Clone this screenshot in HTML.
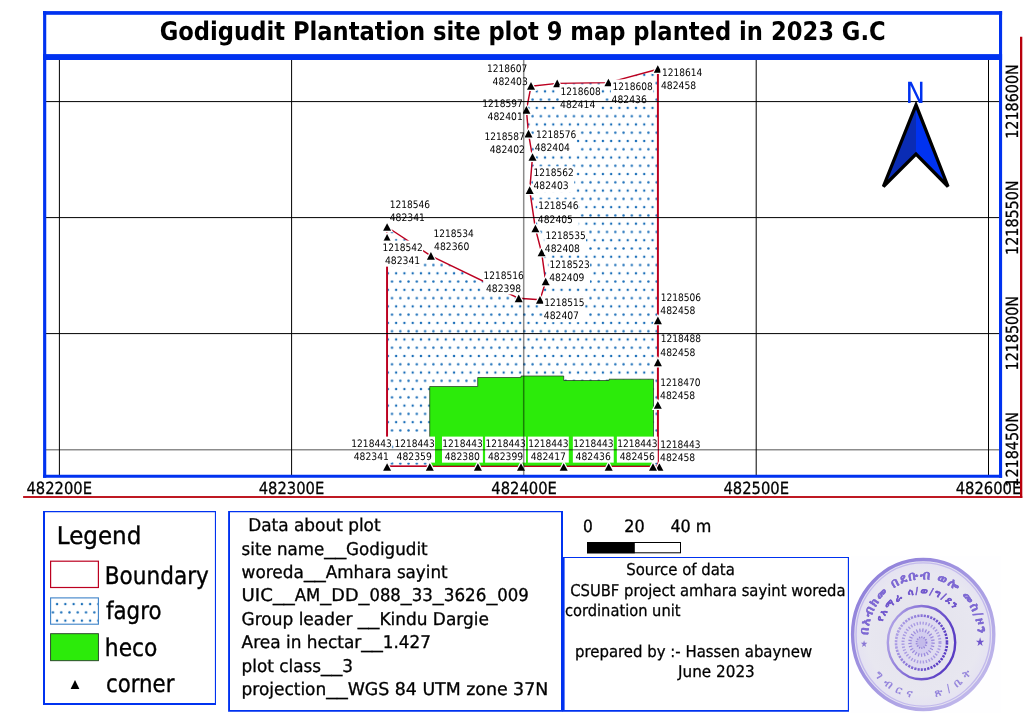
<!DOCTYPE html>
<html lang="en"><head><meta charset="utf-8"><title>Godigudit Plantation site plot 9 map</title>
<style>html,body{margin:0;padding:0;background:#fff}svg{display:block;will-change:transform}text{font-family:"DejaVu Sans Condensed","DejaVu Sans","Liberation Sans",sans-serif;white-space:pre;text-rendering:geometricPrecision}</style></head><body>
<svg width="1024" height="724" viewBox="0 0 1024 724">
<defs>
<pattern id="dots" patternUnits="userSpaceOnUse" x="7.460" y="8.660" width="8.27" height="16.54"><circle cx="0" cy="0" r="1.2" fill="#1a6eb8"/><circle cx="8.27" cy="0" r="1.2" fill="#1a6eb8"/><circle cx="0" cy="16.54" r="1.2" fill="#1a6eb8"/><circle cx="8.27" cy="16.54" r="1.2" fill="#1a6eb8"/><circle cx="4.135" cy="8.27" r="1.2" fill="#1a6eb8"/></pattern>
<clipPath id="mapclip"><rect x="46" y="60" width="953" height="415"/></clipPath>
</defs>
<rect width="1024" height="724" fill="#fff"/>
<g clip-path="url(#mapclip)">
<polygon points="531,86.3 557.2,83.4 608.4,82.6 657.8,69.2 657.9,466.3 387.1,466.3 387.1,227 430.9,255.9 518.7,298.3 540,299.8 545.7,281.6 541.6,252.5 535.4,228.6 529.7,190.2 532.5,157 528.5,133.7 526.4,109.9" fill="url(#dots)" stroke="#bc0020" stroke-width="1.45" stroke-linejoin="round"/>
<path d="M657.85,69.2 V466.3 M387.1,227 V466.3" stroke="#bc0020" stroke-width="1.85" fill="none"/>
<polygon points="429.7,386.5 477.7,386.5 477.7,377.5 521,377.5 521,376 563.7,376 563.7,380.5 609,380.5 609,379.2 653.5,379.2 653.5,466.2 429.7,466.2" fill="#2ceb0a" stroke="#1c2c1c" stroke-width="0.7"/>
<line x1="387.1" y1="466.3" x2="657.9" y2="466.3" stroke="#bc0020" stroke-width="1.25"/>
<path d="M527.00,89.75 L531.00,82.05 L535.00,89.75Z" fill="#000" stroke="#fff" stroke-width="2.4" paint-order="stroke" stroke-linejoin="miter"/>
<path d="M553.20,87.25 L557.20,79.55 L561.20,87.25Z" fill="#000" stroke="#fff" stroke-width="2.4" paint-order="stroke" stroke-linejoin="miter"/>
<path d="M604.40,86.35 L608.40,78.65 L612.40,86.35Z" fill="#000" stroke="#fff" stroke-width="2.4" paint-order="stroke" stroke-linejoin="miter"/>
<path d="M653.80,72.85 L657.80,65.15 L661.80,72.85Z" fill="#000" stroke="#fff" stroke-width="2.4" paint-order="stroke" stroke-linejoin="miter"/>
<path d="M522.40,113.75 L526.40,106.05 L530.40,113.75Z" fill="#000" stroke="#fff" stroke-width="2.4" paint-order="stroke" stroke-linejoin="miter"/>
<path d="M524.50,137.55 L528.50,129.85 L532.50,137.55Z" fill="#000" stroke="#fff" stroke-width="2.4" paint-order="stroke" stroke-linejoin="miter"/>
<path d="M528.50,160.85 L532.50,153.15 L536.50,160.85Z" fill="#000" stroke="#fff" stroke-width="2.4" paint-order="stroke" stroke-linejoin="miter"/>
<path d="M525.70,194.05 L529.70,186.35 L533.70,194.05Z" fill="#000" stroke="#fff" stroke-width="2.4" paint-order="stroke" stroke-linejoin="miter"/>
<path d="M531.40,232.35 L535.40,224.65 L539.40,232.35Z" fill="#000" stroke="#fff" stroke-width="2.4" paint-order="stroke" stroke-linejoin="miter"/>
<path d="M537.60,256.35 L541.60,248.65 L545.60,256.35Z" fill="#000" stroke="#fff" stroke-width="2.4" paint-order="stroke" stroke-linejoin="miter"/>
<path d="M541.70,285.35 L545.70,277.65 L549.70,285.35Z" fill="#000" stroke="#fff" stroke-width="2.4" paint-order="stroke" stroke-linejoin="miter"/>
<path d="M536.00,303.65 L540.00,295.95 L544.00,303.65Z" fill="#000" stroke="#fff" stroke-width="2.4" paint-order="stroke" stroke-linejoin="miter"/>
<path d="M514.70,302.15 L518.70,294.45 L522.70,302.15Z" fill="#000" stroke="#fff" stroke-width="2.4" paint-order="stroke" stroke-linejoin="miter"/>
<path d="M426.90,259.75 L430.90,252.05 L434.90,259.75Z" fill="#000" stroke="#fff" stroke-width="2.4" paint-order="stroke" stroke-linejoin="miter"/>
<path d="M383.10,230.85 L387.10,223.15 L391.10,230.85Z" fill="#000" stroke="#fff" stroke-width="2.4" paint-order="stroke" stroke-linejoin="miter"/>
<path d="M383.10,241.65 L387.10,233.95 L391.10,241.65Z" fill="#000" stroke="#fff" stroke-width="2.4" paint-order="stroke" stroke-linejoin="miter"/>
<path d="M653.90,324.15 L657.90,316.45 L661.90,324.15Z" fill="#000" stroke="#fff" stroke-width="2.4" paint-order="stroke" stroke-linejoin="miter"/>
<path d="M653.90,366.25 L657.90,358.55 L661.90,366.25Z" fill="#000" stroke="#fff" stroke-width="2.4" paint-order="stroke" stroke-linejoin="miter"/>
<path d="M653.80,408.85 L657.80,401.15 L661.80,408.85Z" fill="#000" stroke="#fff" stroke-width="2.4" paint-order="stroke" stroke-linejoin="miter"/>
<path d="M655.40,470.85 L659.40,463.15 L663.40,470.85Z" fill="#000" stroke="#fff" stroke-width="2.4" paint-order="stroke" stroke-linejoin="miter"/>
<path d="M649.00,470.85 L653.00,463.15 L657.00,470.85Z" fill="#000" stroke="#fff" stroke-width="2.4" paint-order="stroke" stroke-linejoin="miter"/>
<path d="M604.70,470.85 L608.70,463.15 L612.70,470.85Z" fill="#000" stroke="#fff" stroke-width="2.4" paint-order="stroke" stroke-linejoin="miter"/>
<path d="M559.70,470.85 L563.70,463.15 L567.70,470.85Z" fill="#000" stroke="#fff" stroke-width="2.4" paint-order="stroke" stroke-linejoin="miter"/>
<path d="M517.00,470.85 L521.00,463.15 L525.00,470.85Z" fill="#000" stroke="#fff" stroke-width="2.4" paint-order="stroke" stroke-linejoin="miter"/>
<path d="M473.90,470.85 L477.90,463.15 L481.90,470.85Z" fill="#000" stroke="#fff" stroke-width="2.4" paint-order="stroke" stroke-linejoin="miter"/>
<path d="M425.80,470.85 L429.80,463.15 L433.80,470.85Z" fill="#000" stroke="#fff" stroke-width="2.4" paint-order="stroke" stroke-linejoin="miter"/>
<path d="M383.10,470.85 L387.10,463.15 L391.10,470.85Z" fill="#000" stroke="#fff" stroke-width="2.4" paint-order="stroke" stroke-linejoin="miter"/>
<rect x="486.60" y="61.80" width="40.90" height="26.30" fill="#fff"/>
<rect x="559.50" y="85.00" width="41.50" height="26.20" fill="#fff"/>
<rect x="611.00" y="79.50" width="42.10" height="25.90" fill="#fff"/>
<rect x="660.35" y="65.60" width="42.15" height="26.05" fill="#fff"/>
<rect x="482.00" y="96.60" width="40.90" height="25.80" fill="#fff"/>
<rect x="484.10" y="129.50" width="40.90" height="26.40" fill="#fff"/>
<rect x="534.10" y="127.50" width="42.50" height="26.40" fill="#fff"/>
<rect x="532.85" y="166.40" width="41.25" height="25.80" fill="#fff"/>
<rect x="537.20" y="199.30" width="41.55" height="26.20" fill="#fff"/>
<rect x="544.20" y="228.50" width="41.80" height="26.00" fill="#fff"/>
<rect x="548.60" y="257.90" width="41.40" height="25.60" fill="#fff"/>
<rect x="543.20" y="296.25" width="41.55" height="25.95" fill="#fff"/>
<rect x="483.20" y="268.50" width="40.90" height="25.90" fill="#fff"/>
<rect x="389.10" y="197.50" width="41.15" height="26.00" fill="#fff"/>
<rect x="382.20" y="240.60" width="40.90" height="26.05" fill="#fff"/>
<rect x="433.10" y="226.50" width="40.90" height="25.90" fill="#fff"/>
<rect x="659.70" y="290.90" width="41.55" height="26.00" fill="#fff"/>
<rect x="659.70" y="332.30" width="41.55" height="26.10" fill="#fff"/>
<rect x="659.45" y="375.50" width="41.35" height="25.90" fill="#fff"/>
<rect x="659.45" y="437.80" width="41.35" height="26.00" fill="#fff"/>
<rect x="351.00" y="436.60" width="40.90" height="26.05" fill="#fff"/>
<rect x="394.10" y="436.60" width="40.90" height="26.05" fill="#fff"/>
<rect x="442.00" y="436.60" width="40.90" height="26.05" fill="#fff"/>
<rect x="485.10" y="436.60" width="40.90" height="26.05" fill="#fff"/>
<rect x="527.90" y="436.60" width="40.90" height="26.05" fill="#fff"/>
<rect x="572.85" y="436.60" width="40.90" height="26.05" fill="#fff"/>
<rect x="616.85" y="436.60" width="40.90" height="26.05" fill="#fff"/>
<text x="486.95" y="71.8" font-size="10.3" textLength="40.34" lengthAdjust="spacingAndGlyphs">1218607</text>
<text x="492.6" y="85.2" font-size="10.3" textLength="35.19" lengthAdjust="spacingAndGlyphs">482403</text>
<text x="560.45" y="95" font-size="10.3" textLength="40.34" lengthAdjust="spacingAndGlyphs">1218608</text>
<text x="560.1" y="108.3" font-size="10.3" textLength="35.19" lengthAdjust="spacingAndGlyphs">482414</text>
<text x="612.55" y="89.5" font-size="10.3" textLength="40.34" lengthAdjust="spacingAndGlyphs">1218608</text>
<text x="611.6" y="102.5" font-size="10.3" textLength="35.19" lengthAdjust="spacingAndGlyphs">482436</text>
<text x="661.95" y="75.6" font-size="10.3" textLength="40.34" lengthAdjust="spacingAndGlyphs">1218614</text>
<text x="660.95" y="88.75" font-size="10.3" textLength="35.19" lengthAdjust="spacingAndGlyphs">482458</text>
<text x="482.35" y="106.6" font-size="10.3" textLength="40.34" lengthAdjust="spacingAndGlyphs">1218597</text>
<text x="487.6" y="119.5" font-size="10.3" textLength="35.19" lengthAdjust="spacingAndGlyphs">482401</text>
<text x="484.45" y="139.5" font-size="10.3" textLength="40.34" lengthAdjust="spacingAndGlyphs">1218587</text>
<text x="489.7" y="153" font-size="10.3" textLength="35.19" lengthAdjust="spacingAndGlyphs">482402</text>
<text x="536.05" y="137.5" font-size="10.3" textLength="40.34" lengthAdjust="spacingAndGlyphs">1218576</text>
<text x="534.7" y="151" font-size="10.3" textLength="35.19" lengthAdjust="spacingAndGlyphs">482404</text>
<text x="533.55" y="176.4" font-size="10.3" textLength="40.34" lengthAdjust="spacingAndGlyphs">1218562</text>
<text x="533.45" y="189.3" font-size="10.3" textLength="35.19" lengthAdjust="spacingAndGlyphs">482403</text>
<text x="538.2" y="209.3" font-size="10.3" textLength="40.34" lengthAdjust="spacingAndGlyphs">1218546</text>
<text x="537.8" y="222.6" font-size="10.3" textLength="35.19" lengthAdjust="spacingAndGlyphs">482405</text>
<text x="545.45" y="238.5" font-size="10.3" textLength="40.34" lengthAdjust="spacingAndGlyphs">1218535</text>
<text x="544.8" y="251.6" font-size="10.3" textLength="35.19" lengthAdjust="spacingAndGlyphs">482408</text>
<text x="549.45" y="267.9" font-size="10.3" textLength="40.34" lengthAdjust="spacingAndGlyphs">1218523</text>
<text x="549.2" y="280.6" font-size="10.3" textLength="35.19" lengthAdjust="spacingAndGlyphs">482409</text>
<text x="544.2" y="306.25" font-size="10.3" textLength="40.34" lengthAdjust="spacingAndGlyphs">1218515</text>
<text x="543.8" y="319.3" font-size="10.3" textLength="35.19" lengthAdjust="spacingAndGlyphs">482407</text>
<text x="483.55" y="278.5" font-size="10.3" textLength="40.34" lengthAdjust="spacingAndGlyphs">1218516</text>
<text x="485.95" y="291.5" font-size="10.3" textLength="35.19" lengthAdjust="spacingAndGlyphs">482398</text>
<text x="389.7" y="207.5" font-size="10.3" textLength="40.34" lengthAdjust="spacingAndGlyphs">1218546</text>
<text x="389.7" y="220.6" font-size="10.3" textLength="35.19" lengthAdjust="spacingAndGlyphs">482341</text>
<text x="382.55" y="250.6" font-size="10.3" textLength="40.34" lengthAdjust="spacingAndGlyphs">1218542</text>
<text x="384.95" y="263.75" font-size="10.3" textLength="35.19" lengthAdjust="spacingAndGlyphs">482341</text>
<text x="433.45" y="236.5" font-size="10.3" textLength="40.34" lengthAdjust="spacingAndGlyphs">1218534</text>
<text x="434.1" y="249.5" font-size="10.3" textLength="35.19" lengthAdjust="spacingAndGlyphs">482360</text>
<text x="660.7" y="300.9" font-size="10.3" textLength="40.34" lengthAdjust="spacingAndGlyphs">1218506</text>
<text x="660.3" y="314" font-size="10.3" textLength="35.19" lengthAdjust="spacingAndGlyphs">482458</text>
<text x="660.7" y="342.3" font-size="10.3" textLength="40.34" lengthAdjust="spacingAndGlyphs">1218488</text>
<text x="660.3" y="355.5" font-size="10.3" textLength="35.19" lengthAdjust="spacingAndGlyphs">482458</text>
<text x="660.25" y="385.5" font-size="10.3" textLength="40.34" lengthAdjust="spacingAndGlyphs">1218470</text>
<text x="660.05" y="398.5" font-size="10.3" textLength="35.19" lengthAdjust="spacingAndGlyphs">482458</text>
<text x="660.25" y="447.8" font-size="10.3" textLength="40.34" lengthAdjust="spacingAndGlyphs">1218443</text>
<text x="660.05" y="460.9" font-size="10.3" textLength="35.19" lengthAdjust="spacingAndGlyphs">482458</text>
<text x="351.35" y="446.6" font-size="10.3" textLength="40.34" lengthAdjust="spacingAndGlyphs">1218443</text>
<text x="353.7" y="459.75" font-size="10.3" textLength="35.19" lengthAdjust="spacingAndGlyphs">482341</text>
<text x="394.45" y="446.6" font-size="10.3" textLength="40.34" lengthAdjust="spacingAndGlyphs">1218443</text>
<text x="396.6" y="459.75" font-size="10.3" textLength="35.19" lengthAdjust="spacingAndGlyphs">482359</text>
<text x="442.35" y="446.6" font-size="10.3" textLength="40.34" lengthAdjust="spacingAndGlyphs">1218443</text>
<text x="444.7" y="459.75" font-size="10.3" textLength="35.19" lengthAdjust="spacingAndGlyphs">482380</text>
<text x="485.45" y="446.6" font-size="10.3" textLength="40.34" lengthAdjust="spacingAndGlyphs">1218443</text>
<text x="487.95" y="459.75" font-size="10.3" textLength="35.19" lengthAdjust="spacingAndGlyphs">482399</text>
<text x="528.25" y="446.6" font-size="10.3" textLength="40.34" lengthAdjust="spacingAndGlyphs">1218443</text>
<text x="530.7" y="459.75" font-size="10.3" textLength="35.19" lengthAdjust="spacingAndGlyphs">482417</text>
<text x="573.2" y="446.6" font-size="10.3" textLength="40.34" lengthAdjust="spacingAndGlyphs">1218443</text>
<text x="575.6" y="459.75" font-size="10.3" textLength="35.19" lengthAdjust="spacingAndGlyphs">482436</text>
<text x="617.2" y="446.6" font-size="10.3" textLength="40.34" lengthAdjust="spacingAndGlyphs">1218443</text>
<text x="619.7" y="459.75" font-size="10.3" textLength="35.19" lengthAdjust="spacingAndGlyphs">482456</text>
<line x1="59.4" y1="60" x2="59.4" y2="475" stroke="#000" stroke-width="1"/>
<line x1="291.6" y1="60" x2="291.6" y2="475" stroke="#000" stroke-width="1"/>
<line x1="756.2" y1="60" x2="756.2" y2="475" stroke="#000" stroke-width="1"/>
<line x1="988.5" y1="60" x2="988.5" y2="475" stroke="#000" stroke-width="1"/>
<line x1="46" y1="101.6" x2="999" y2="101.6" stroke="#000" stroke-width="1"/>
<line x1="46" y1="217.6" x2="999" y2="217.6" stroke="#000" stroke-width="1"/>
<line x1="46" y1="333.6" x2="999" y2="333.6" stroke="#000" stroke-width="1"/>
<line x1="523.7" y1="60" x2="523.7" y2="475" stroke="#000" stroke-opacity="0.45" stroke-width="1.5"/>
<line x1="46" y1="449.7" x2="999" y2="449.7" stroke="#000" stroke-opacity="0.45" stroke-width="1.5"/>
<path d="M916,104.9 L883.4,186.5 L916,154Z" fill="#0a2cb4"/>
<path d="M916,104.9 L948,186.5 L916,154Z" fill="#0032f0"/>
<path d="M916,104.9 L948,186.5 L916,154 L883.4,186.5Z" fill="none" stroke="#000" stroke-width="3.3" stroke-linejoin="miter" stroke-miterlimit="4"/>
<text x="915.2" y="102.6" font-size="29" text-anchor="middle" fill="#0032f0" font-family='"Liberation Sans",sans-serif'>N</text>
</g>
<g fill="#0032f0">
<rect x="43" y="11.1" width="959.1" height="3.7"/>
<rect x="43" y="54.1" width="959.1" height="5.9"/>
<rect x="43" y="474.75" width="959.1" height="3"/>
<rect x="43.1" y="11.1" width="3.15" height="466.65"/>
<rect x="999" y="11.1" width="3.1" height="466.65"/>
</g>
<text x="522.7" y="40" font-size="25.6" textLength="726" lengthAdjust="spacingAndGlyphs" text-anchor="middle" font-weight="bold">Godigudit Plantation site plot 9 map planted in 2023 G.C</text>
<text x="59.2" y="493.5" font-size="16.8" textLength="65.6" lengthAdjust="spacingAndGlyphs" text-anchor="middle" stroke="#000" stroke-width="0.25">482200E</text>
<text x="291.5" y="493.5" font-size="16.8" textLength="65.6" lengthAdjust="spacingAndGlyphs" text-anchor="middle" stroke="#000" stroke-width="0.25">482300E</text>
<text x="524.1" y="493.5" font-size="16.8" textLength="65.6" lengthAdjust="spacingAndGlyphs" text-anchor="middle" stroke="#000" stroke-width="0.25">482400E</text>
<text x="756.25" y="493.5" font-size="16.8" textLength="65.6" lengthAdjust="spacingAndGlyphs" text-anchor="middle" stroke="#000" stroke-width="0.25">482500E</text>
<text x="988.5" y="493.5" font-size="16.8" textLength="65.6" lengthAdjust="spacingAndGlyphs" text-anchor="middle" stroke="#000" stroke-width="0.25">482600E</text>
<text x="0" y="0" font-size="16.8" textLength="74.6" lengthAdjust="spacingAndGlyphs" text-anchor="middle" stroke="#000" stroke-width="0.25" transform="translate(1017.9,101.5) rotate(-90)">1218600N</text>
<text x="0" y="0" font-size="16.8" textLength="74.6" lengthAdjust="spacingAndGlyphs" text-anchor="middle" stroke="#000" stroke-width="0.25" transform="translate(1017.9,217.7) rotate(-90)">1218550N</text>
<text x="0" y="0" font-size="16.8" textLength="74.6" lengthAdjust="spacingAndGlyphs" text-anchor="middle" stroke="#000" stroke-width="0.25" transform="translate(1017.9,333.2) rotate(-90)">1218500N</text>
<text x="0" y="0" font-size="16.8" textLength="74.6" lengthAdjust="spacingAndGlyphs" text-anchor="middle" stroke="#000" stroke-width="0.25" transform="translate(1017.9,449.4) rotate(-90)">1218450N</text>
<rect x="1020" y="36.75" width="2.3" height="461.2" fill="#b8000c"/>
<rect x="23.1" y="496.1" width="999.2" height="1.8" fill="#b8000c"/>
<path d="M43,511 H216 V704.9 H43Z M45,512.2 V703.05 H214.9 V512.2Z" fill="#0032f0" fill-rule="evenodd"/>
<text x="56.8" y="543.75" font-size="24.5" textLength="84.5" lengthAdjust="spacingAndGlyphs" stroke="#000" stroke-width="0.35">Legend</text>
<rect x="50.6" y="561.2" width="47.8" height="26.3" fill="#fff" stroke="#bc0020" stroke-width="1.2"/>
<rect x="50.6" y="597.9" width="47.8" height="26.3" fill="url(#dots)" stroke="#3c82c8" stroke-width="1.1"/>
<rect x="50.6" y="633.7" width="47.8" height="27" fill="#2ceb0a" stroke="#233a23" stroke-width="0.9"/>
<path d="M70.60,688.90 L75.00,680.10 L79.40,688.90Z" fill="#000"/>
<text x="104.8" y="583.75" font-size="24.5" textLength="104" lengthAdjust="spacingAndGlyphs" stroke="#000" stroke-width="0.35">Boundary</text>
<text x="106" y="619.2" font-size="24.5" textLength="55.5" lengthAdjust="spacingAndGlyphs" stroke="#000" stroke-width="0.35">fagro</text>
<text x="104.8" y="655.7" font-size="24.5" textLength="52.6" lengthAdjust="spacingAndGlyphs" stroke="#000" stroke-width="0.35">heco</text>
<text x="106" y="692" font-size="24.5" textLength="68.5" lengthAdjust="spacingAndGlyphs" stroke="#000" stroke-width="0.35">corner</text>
<path d="M228.1,511 H563 V711.7 H228.1Z M230,512.2 V709.95 H561 V512.2Z" fill="#0032f0" fill-rule="evenodd"/>
<text x="242.8" y="531.25" font-size="17.6" textLength="137.8" lengthAdjust="spacingAndGlyphs" stroke="#000" stroke-width="0.3"> Data about plot</text>
<text y="554.6" font-size="17.6" stroke="#000" stroke-width="0.3"><tspan x="241.6" textLength="82.6" lengthAdjust="spacingAndGlyphs">site name</tspan><tspan x="324.2" textLength="21.9" lengthAdjust="spacingAndGlyphs">__</tspan><tspan x="346.1" textLength="81.5" lengthAdjust="spacingAndGlyphs">Godigudit</tspan></text>
<text y="578" font-size="17.6" stroke="#000" stroke-width="0.3"><tspan x="241.6" textLength="62.3" lengthAdjust="spacingAndGlyphs">woreda</tspan><tspan x="303.9" textLength="21.9" lengthAdjust="spacingAndGlyphs">__</tspan><tspan x="325.8" textLength="121.8" lengthAdjust="spacingAndGlyphs">Amhara sayint</tspan></text>
<text y="601.3" font-size="17.6" stroke="#000" stroke-width="0.3"><tspan x="241.6" textLength="31.3" lengthAdjust="spacingAndGlyphs">UIC</tspan><tspan x="272.9" textLength="21.9" lengthAdjust="spacingAndGlyphs">__</tspan><tspan x="294.8" textLength="25.5" lengthAdjust="spacingAndGlyphs">AM</tspan><tspan x="320.3" textLength="10.95" lengthAdjust="spacingAndGlyphs">_</tspan><tspan x="331.25" textLength="27.35" lengthAdjust="spacingAndGlyphs">DD</tspan><tspan x="358.6" textLength="10.9" lengthAdjust="spacingAndGlyphs">_</tspan><tspan x="369.5" textLength="31.3" lengthAdjust="spacingAndGlyphs">088</tspan><tspan x="400.8" textLength="10.9" lengthAdjust="spacingAndGlyphs">_</tspan><tspan x="411.7" textLength="21.1" lengthAdjust="spacingAndGlyphs">33</tspan><tspan x="432.8" textLength="10.95" lengthAdjust="spacingAndGlyphs">_</tspan><tspan x="443.75" textLength="42.65" lengthAdjust="spacingAndGlyphs">3626</tspan><tspan x="486.4" textLength="10.9" lengthAdjust="spacingAndGlyphs">_</tspan><tspan x="497.3" textLength="31.6" lengthAdjust="spacingAndGlyphs">009</tspan></text>
<text y="624.6" font-size="17.6" stroke="#000" stroke-width="0.3"><tspan x="241.6" textLength="116.2" lengthAdjust="spacingAndGlyphs">Group leader </tspan><tspan x="357.8" textLength="21.6" lengthAdjust="spacingAndGlyphs">__</tspan><tspan x="379.4" textLength="109.5" lengthAdjust="spacingAndGlyphs">Kindu Dargie</tspan></text>
<text y="648" font-size="17.6" stroke="#000" stroke-width="0.3"><tspan x="241.6" textLength="119.65" lengthAdjust="spacingAndGlyphs">Area in hectar</tspan><tspan x="361.25" textLength="21.55" lengthAdjust="spacingAndGlyphs">__</tspan><tspan x="382.8" textLength="48.1" lengthAdjust="spacingAndGlyphs">1.427</tspan></text>
<text y="671.5" font-size="17.6" stroke="#000" stroke-width="0.3"><tspan x="241.6" textLength="79.5" lengthAdjust="spacingAndGlyphs">plot class</tspan><tspan x="321.1" textLength="21.1" lengthAdjust="spacingAndGlyphs">__</tspan><tspan x="342.2" textLength="10.7" lengthAdjust="spacingAndGlyphs">3</tspan></text>
<text y="695" font-size="17.6" stroke="#000" stroke-width="0.3"><tspan x="241.6" textLength="84.65" lengthAdjust="spacingAndGlyphs">projection</tspan><tspan x="326.25" textLength="21.45" lengthAdjust="spacingAndGlyphs">__</tspan><tspan x="347.7" textLength="200.5" lengthAdjust="spacingAndGlyphs">WGS 84 UTM zone 37N</tspan></text>
<text x="583.1" y="532" font-size="17" textLength="9.8" lengthAdjust="spacingAndGlyphs" stroke="#000" stroke-width="0.3">0</text>
<text x="624.2" y="532" font-size="17" textLength="20.4" lengthAdjust="spacingAndGlyphs" stroke="#000" stroke-width="0.3">20</text>
<text x="670.4" y="532" font-size="17" textLength="41" lengthAdjust="spacingAndGlyphs" stroke="#000" stroke-width="0.3">40 m</text>
<rect x="587.5" y="542.5" width="93" height="10.3" fill="#fff" stroke="#000" stroke-width="1"/>
<rect x="587" y="542" width="47.8" height="11.3" fill="#000"/>
<path d="M562.6,556.9 H849 V711.7 H562.6Z M564.6,558.1 V709.95 H847.85 V558.1Z" fill="#0032f0" fill-rule="evenodd"/>
<text x="626.3" y="575" font-size="16.2" textLength="108.5" lengthAdjust="spacingAndGlyphs" stroke="#000" stroke-width="0.25">Source of data</text>
<text x="565.5" y="595.6" font-size="16.2" textLength="280.0" lengthAdjust="spacingAndGlyphs" stroke="#000" stroke-width="0.25"> CSUBF project amhara sayint woreda</text>
<text x="565" y="616" font-size="16.2" textLength="115.5" lengthAdjust="spacingAndGlyphs" stroke="#000" stroke-width="0.25">cordination unit</text>
<text x="575" y="657" font-size="16.2" textLength="237.2" lengthAdjust="spacingAndGlyphs" stroke="#000" stroke-width="0.25">prepared by :- Hassen abaynew</text>
<text x="678" y="677.3" font-size="16.2" textLength="76.8" lengthAdjust="spacingAndGlyphs" stroke="#000" stroke-width="0.25">June 2023</text>
<g id="stamp" filter="url(#soft)">
<defs><filter id="soft" x="-5%" y="-5%" width="110%" height="110%"><feGaussianBlur stdDeviation="0.45"/></filter><linearGradient id="rim" x1="0" y1="0" x2="1" y2="1"><stop offset="0" stop-color="#8a7ad8"/><stop offset="0.5" stop-color="#a599e2"/><stop offset="1" stop-color="#c9c2ee"/></linearGradient><linearGradient id="rg" x1="0" y1="0" x2="1" y2="0.3"><stop offset="0" stop-color="#b9aee9"/><stop offset="0.55" stop-color="#7f68d4"/><stop offset="1" stop-color="#5a3ec4"/></linearGradient><radialGradient id="fg" cx="0.5" cy="0.5" r="0.5"><stop offset="0" stop-color="#e3e2ec"/><stop offset="0.8" stop-color="#e8e7f0"/><stop offset="1" stop-color="#e4e1f2"/></radialGradient></defs>
<rect x="851" y="556" width="150" height="157" fill="#fefeff"/>
<ellipse cx="923.2" cy="634.5" rx="70.6" ry="75" fill="url(#fg)" stroke="url(#rim)" stroke-width="3.4"/>
<ellipse cx="923.2" cy="634.5" rx="67.2" ry="71.6" fill="none" stroke="#c3baec" stroke-width="1.4"/>
<ellipse cx="921.5" cy="642.6" rx="33.7" ry="36.6" fill="none" stroke="url(#rg)" stroke-width="2.4"/>
<ellipse cx="921.5" cy="642.6" rx="25.5" ry="27" fill="#dfdbf0" stroke="url(#rg)" stroke-width="2.6" stroke-dasharray="2.2 1.1"/>
<ellipse cx="921.5" cy="642.6" rx="18.5" ry="19.5" fill="none" stroke="#a99be2" stroke-width="3" stroke-dasharray="1.4 1.6"/>
<ellipse cx="921.5" cy="642.6" rx="11.5" ry="12.5" fill="#d3cdef" stroke="#9a8adc" stroke-width="3.4" stroke-dasharray="1.2 1.8"/>
<ellipse cx="921.5" cy="642.6" rx="5" ry="5.5" fill="#c3baea" stroke="#8f7dd8" stroke-width="1.8" stroke-dasharray="1 1.4"/>
<path id="arc1" d="M868.5,643.9 A55,57 0 1 1 977.5,643.9" fill="none"/>
<path id="arc2" d="M882,623 A42,43 0 0 1 958.5,616" fill="none"/>
<path id="arc3" d="M872,672 A62,64 0 0 0 975,668" fill="none"/>
<text font-size='12.5' font-weight='bold' fill='#7e69d3' stroke='#7e69d3' stroke-width='0.4' font-family='"Liberation Sans","DejaVu Sans","Noto Sans Ethiopic",sans-serif' letter-spacing='0.4'><textPath href='#arc1' startOffset='9' textLength='172' lengthAdjust='spacing'>በአብክመ በደቡብ ወሎ መስ/ዞን</textPath></text>
<text font-size='9.5' font-weight='bold' fill='#6f55cc' stroke='#6f55cc' stroke-width='0.4' font-family='"Liberation Sans","DejaVu Sans","Noto Sans Ethiopic",sans-serif'><textPath href='#arc2' startOffset='1' textLength='88' lengthAdjust='spacing'>የአማራ ሳ/ወ/ግ/ደን</textPath></text>
<text font-size='11' font-weight='bold' fill='#9686dc' font-family='"Liberation Sans","DejaVu Sans","Noto Sans Ethiopic",sans-serif'><textPath href='#arc3' startOffset='4' textLength='112' lengthAdjust='spacing'>ግብርና  ጽ/ቤት</textPath></text>
<text x="864" y="646.8" font-size="9.5" text-anchor="middle" fill="#8a78d4" font-family='"DejaVu Sans",sans-serif'>★</text>
<text x="980.2" y="645.6" font-size="12" text-anchor="middle" fill="#6f55cc" font-family='"DejaVu Sans",sans-serif'>★</text>
</g>
</svg></body></html>
